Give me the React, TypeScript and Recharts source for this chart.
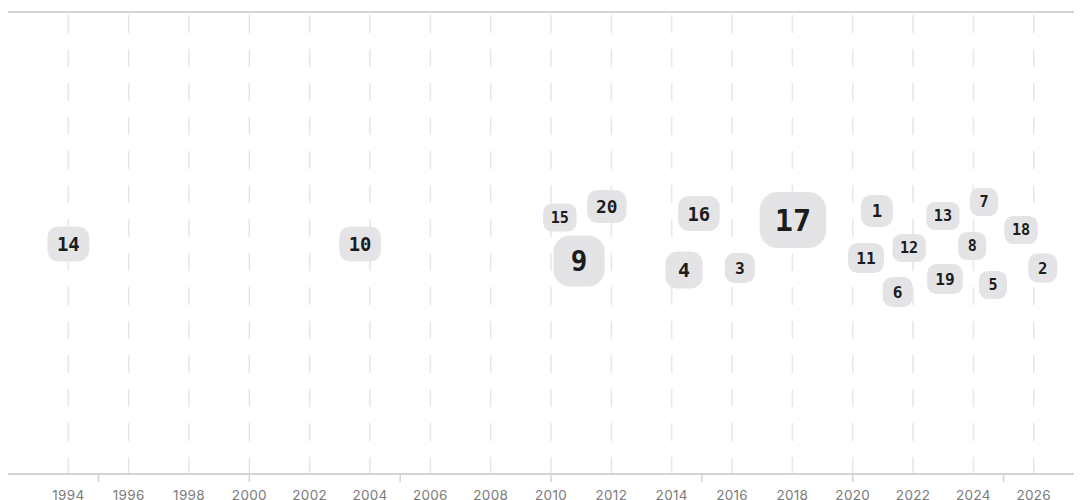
import React from 'react';
import { ScatterChart, Scatter, XAxis, YAxis, CartesianGrid, ReferenceLine } from 'recharts';

// Badge labels, x position (year), vertical dodge offset, and weight (badge size)
const ids = [14, 10, 15, 20, 9, 16, 17, 4, 3, 1, 13, 7, 18, 12, 8, 11, 2, 19, 5, 6];
const years = [1994.0, 2003.67, 2010.29, 2011.85, 2010.93, 2014.9, 2018.02, 2014.41, 2016.26, 2020.8, 2022.99, 2024.35, 2025.58, 2021.87, 2023.96, 2020.44, 2026.3, 2023.06, 2024.65, 2021.49];
const offsets = [-1, -1, 25.5, 36.5, -18, 29.5, 23, -27, -25, 32, 27, 41, 13, -5, -3, -15, -25, -36, -42, -49];
const weights = [35, 35, 28, 33, 51, 35, 56, 37, 30, 32, 28, 28, 28, 28, 28, 30, 29, 30, 28, 30];

const labelYears = [1994, 1996, 1998, 2000, 2002, 2004, 2006, 2008, 2010, 2012, 2014, 2016, 2018, 2020, 2022, 2024, 2026];
const minorYears = [1995, 2000, 2005, 2010, 2015, 2020, 2025];

const X_DOMAIN: [number, number] = [1992, 2027.6];
const Y_DOMAIN: [number, number] = [-231, 231];
const MINOR_TICK_LEN = 8;

const data = ids.map((id, i) => ({ id, year: years[i], off: offsets[i], w: weights[i] }));

const Badge = (props: any) => {
  const { cx, cy, payload } = props;
  if (cx == null || cy == null) return null;
  const h = payload.w;
  const fs = h / 1.85;
  const text = String(payload.id);
  const w = Math.max(h, text.length * 0.602 * fs + fs);
  return (
    <g>
      <rect x={cx - w / 2} y={cy - h / 2} width={w} height={h} rx={h * 0.32} ry={h * 0.32} fill="#e4e4e7" />
      <text
        x={cx}
        y={cy}
        textAnchor="middle"
        dominantBaseline="central"
        fontFamily="'DejaVu Sans Mono', monospace"
        fontWeight="bold"
        fontSize={fs}
        fill="#1c1c1c"
      >
        {text}
      </text>
    </g>
  );
};

const Tick = (props: any) => {
  const { x, y, payload } = props;
  return (
    <text x={x} y={y + 16} dy="0.71em" textAnchor="middle" fontFamily="Inter, sans-serif" fontSize={13.5} letterSpacing={0.3} fill="#7b7b7b">
      {payload.value}
    </text>
  );
};

export default function App() {
  return (
    <ScatterChart width={1074} height={492} margin={{ top: 4, right: 0, bottom: 0, left: 0 }}>
      <CartesianGrid
        horizontal={false}
        syncWithTicks
        stroke="#e6e6e6"
        strokeWidth={1.5}
        strokeDasharray="0 3 18 13"
      />
      <XAxis
        type="number"
        dataKey="year"
        domain={X_DOMAIN}
        allowDataOverflow
        ticks={labelYears}
        interval={0}
        height={26}
        tickSize={0}
        tickMargin={0}
        tickLine={false}
        tick={<Tick />}
        axisLine={{ stroke: '#d4d4d8', strokeWidth: 2 }}
      />
      <YAxis type="number" dataKey="off" domain={Y_DOMAIN} allowDataOverflow hide />
      <ReferenceLine y={Y_DOMAIN[1]} stroke="#d4d4d8" strokeWidth={2} />
      {minorYears.map((yr) => (
        <ReferenceLine
          key={yr}
          segment={[
            { x: yr, y: Y_DOMAIN[0] },
            { x: yr, y: Y_DOMAIN[0] - MINOR_TICK_LEN },
          ]}
          ifOverflow="visible"
          stroke="#d4d4d8"
          strokeWidth={1.5}
        />
      ))}
      <Scatter data={data} shape={<Badge />} isAnimationActive={false} />
    </ScatterChart>
  );
}
